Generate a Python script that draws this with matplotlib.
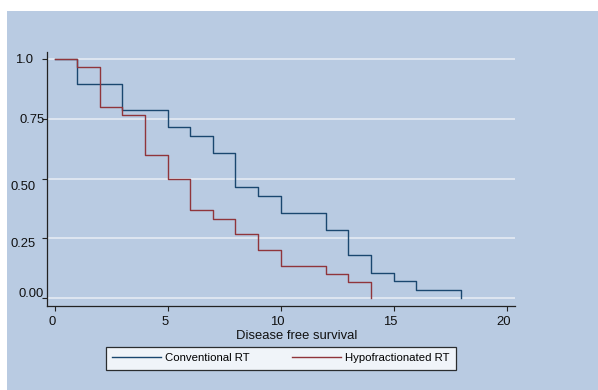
import matplotlib
matplotlib.use("Agg")
import matplotlib.pyplot as plt
import matplotlib.transforms as mtransforms
from matplotlib.patches import Rectangle

plt.rcParams['font.family'] = ['Liberation Sans', 'DejaVu Sans']

# Kaplan-Meier estimates
conv_time = [0, 1, 3, 5, 6, 7, 8, 9, 10, 12, 13, 14, 15, 16, 18]
conv_surv = [1.0, 0.893, 0.786, 0.714, 0.679, 0.607, 0.464, 0.429, 0.357,
             0.286, 0.179, 0.107, 0.071, 0.036, 0.0]
hypo_time = [0, 1, 2, 3, 4, 5, 6, 7, 8, 9, 10, 12, 13, 14]
hypo_surv = [1.0, 0.967, 0.8, 0.767, 0.6, 0.5, 0.367, 0.333, 0.267, 0.2,
             0.133, 0.1, 0.067, 0.0]

y_ticks = [0.0, 0.25, 0.5, 0.75, 1.0]
y_labels = ['0.00', '0.25', '0.50', '0.75', '1.0']
x_ticks = [0, 5, 10, 15, 20]

bg = '#b9cbe2'
blue = '#1a476f'
red = '#90353b'

fig = plt.figure(figsize=(5.98, 3.90), dpi=100, facecolor='white')
# bluish graph region, with a thin white strip on the top and left
fig.patches.append(Rectangle((7 / 598, 0), 1, 1 - 11 / 390, transform=fig.transFigure,
                             facecolor=bg, edgecolor='none', zorder=-10))

ax = fig.add_axes([46.5 / 598, 1 - 305.7 / 390, 468.5 / 598, 254 / 390])
ax.set_facecolor('none')

ax.step(conv_time, conv_surv, where='post', color=blue, lw=1.0, label='Conventional RT')
ax.step(hypo_time, hypo_surv, where='post', color=red, lw=1.0, label='Hypofractionated RT')

ax.set_xlim(-0.363, 20.37)
ax.set_ylim(-0.031, 1.03)

for y in y_ticks:
    ax.axhline(y, color='#e8eef5', lw=1.1, zorder=1)

for s in ['top', 'right']:
    ax.spines[s].set_visible(False)
for s in ['left', 'bottom']:
    ax.spines[s].set_color('#222222')
    ax.spines[s].set_linewidth(0.9)

ax.set_yticks(y_ticks)
ax.set_yticklabels(y_labels)
ax.set_xticks(x_ticks)
ax.tick_params(axis='both', length=3.6, width=0.8, color='#222222',
               labelsize=9.4, labelcolor='#111111')
ax.tick_params(axis='x', pad=3.5)
ax.tick_params(axis='y', pad=2)

# nudge the y labels the way they sit in the original (pixels: right, up)
y_shift = {'0.00': (5.5, 6), '0.25': (-3.5, -4), '0.50': (-3.5, -7),
           '0.75': (5.5, 0), '1.0': (-5.5, 0)}
for lab in ax.get_yticklabels():
    dx, dy = y_shift[lab.get_text()]
    lab.set_transform(lab.get_transform() +
                      mtransforms.ScaledTranslation(dx / 100, dy / 100, fig.dpi_scale_trans))
for lab in ax.get_xticklabels():
    lab.set_transform(lab.get_transform() +
                      mtransforms.ScaledTranslation(-3 / 100, 0, fig.dpi_scale_trans))

ax.set_xlabel('Disease free survival', fontsize=9.4, color='#111111')
ax.xaxis.set_label_coords(0.535, -0.094)

leg = ax.legend(loc='upper left', ncol=2, fontsize=8.2,
                bbox_to_anchor=(106 / 598, 1 - 347 / 390),
                bbox_transform=fig.transFigure, frameon=True, fancybox=False,
                handlelength=4.3, handletextpad=0.35, columnspacing=3.7,
                borderpad=0.55, borderaxespad=0)
leg.get_frame().set_edgecolor('black')
leg.get_frame().set_linewidth(0.9)
leg.get_frame().set_facecolor('white')

fig.savefig('out.png', dpi=100, facecolor=fig.get_facecolor())
